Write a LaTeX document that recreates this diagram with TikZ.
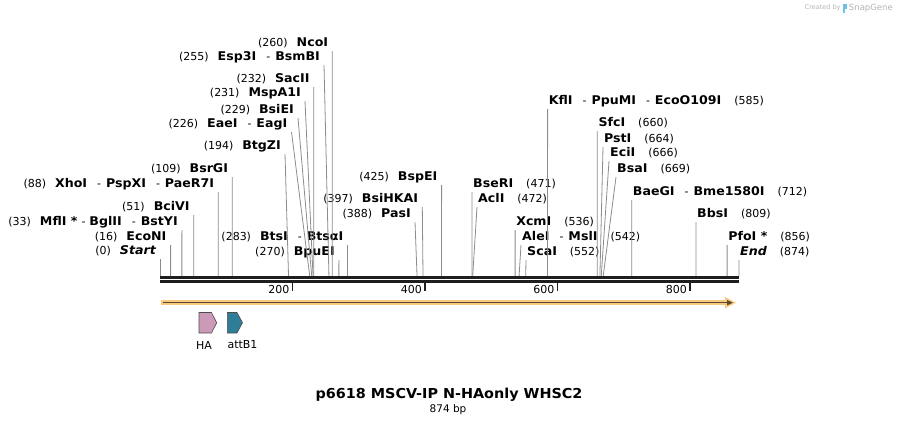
\documentclass[tikz,border=0pt]{standalone}
\usepackage{fontspec}
\setmainfont{DejaVu Sans}[BoldFeatures={FakeStretch=1.05},BoldItalicFeatures={FakeStretch=1.05}]
\usetikzlibrary{arrows.meta}

\definecolor{sitegray}{HTML}{8C8C8C}
\definecolor{mapblack}{HTML}{1E1E1E}
\definecolor{featorange}{HTML}{F9C97C}
\definecolor{featbrown}{HTML}{5A4A33}
\definecolor{hapink}{HTML}{CC9AB9}
\definecolor{attteal}{HTML}{2F7E98}
\definecolor{logoblue}{HTML}{6CC0EC}
\definecolor{logogray}{HTML}{B4B4B4}

\newcommand{\enzname}[1]{{\fontsize{12}{14}\selectfont\bfseries #1}}
\newcommand{\enzsep}{\hspace{10pt}-\hspace{5pt}}

\tikzset{
  cut/.style={draw=sitegray, line width=0.8pt},
  cutlabel/.style={inner ysep=2pt, text depth=2pt, font=\fontsize{11}{13}\selectfont},
  leftcut/.style={cutlabel, anchor=south east, inner xsep=4pt},
  rightcut/.style={cutlabel, anchor=south west, inner xsep=1pt},
  feature/.style={draw=black!70, line width=0.6pt},
  featlabel/.style={font=\fontsize{11}{13}\selectfont, inner sep=0pt},
}

\begin{document}
\begin{tikzpicture}[x=1pt,y=-1pt]
    \useasboundingbox (0,0) rectangle (899,426);

    % cut sites on the backbone (874 bp)
    \foreach \n/\bp in {Start/0,EcoNI/16,MflI/33,BciVI/51,XhoI/88,BsrGI/109,BtgZI/194,
        EaeI/226,BsiEI/229,MspAI/231,SacII/232,EspI/255,NcoI/260,BpuEI/270,BtsI/283,
        PasI/388,BsiHKAI/397,BspEI/425,BseRI/471,AclI/472,XcmI/536,AleI/542,ScaI/552,
        KflI/585,SfcI/660,PstI/664,EciI/666,BsaI/669,BaeGI/712,BbsI/809,PfoI/856,End/874}
        \coordinate (s\n) at ({160+0.6625*\bp},276);

    % Enzymes left of their site
    \node[leftcut] (lStart) at (160,259) {(0)\hspace{9pt}\enzname{\itshape Start}};
    \node[leftcut] (lEcoNI) at (170.6,245) {(16)\hspace{9pt}\enzname{EcoNI}};
    \node[leftcut] (lMflI) at (181.9,230) {(33)\hspace{9pt}\enzname{MflI *}\hspace{4pt}-\hspace{4pt}\enzname{BglII}\enzsep\enzname{BstYI}};
    \node[leftcut] (lBciVI) at (193.8,215) {(51)\hspace{9pt}\enzname{BciVI}};
    \node[leftcut] (lXhoI) at (218.3,192) {(88)\hspace{9pt}\enzname{XhoI}\enzsep\enzname{PspXI}\enzsep\enzname{PaeR7I}};
    \node[leftcut] (lBsrGI) at (232.2,177) {(109)\hspace{9pt}\enzname{BsrGI}};
    \node[leftcut] (lBtgZI) at (285,154) {(194)\hspace{9pt}\enzname{BtgZI}};
    \node[leftcut] (lEaeI) at (291.5,132) {(226)\hspace{9pt}\enzname{EaeI}\enzsep\enzname{EagI}};
    \node[leftcut] (lBsiEI) at (298,118) {(229)\hspace{9pt}\enzname{BsiEI}};
    \node[leftcut] (lMspAI) at (305,101) {(231)\hspace{9pt}\enzname{MspA1I}};
    \node[leftcut] (lSacII) at (313.7,87) {(232)\hspace{9pt}\enzname{SacII}};
    \node[leftcut] (lEspI) at (324,65) {(255)\hspace{9pt}\enzname{Esp3I}\enzsep\enzname{BsmBI}};
    \node[leftcut] (lNcoI) at (332.3,51) {(260)\hspace{9pt}\enzname{NcoI}};
    \node[leftcut] (lBtsI) at (347.5,245) {(283)\hspace{9pt}\enzname{BtsI}\enzsep\enzname{BtsαI}};
    \node[leftcut] (lBpuEI) at (338.9,260) {(270)\hspace{9pt}\enzname{BpuEI}};
    \node[leftcut] (lPasI) at (415,222) {(388)\hspace{9pt}\enzname{PasI}};
    \node[leftcut] (lBsiHKAI) at (422.3,207) {(397)\hspace{9pt}\enzname{BsiHKAI}};
    \node[leftcut] (lBspEI) at (441.6,185) {(425)\hspace{9pt}\enzname{BspEI}};

    % Enzymes right of their site
    \node[rightcut] (lBseRI) at (472,192) {\enzname{BseRI}\hspace{13pt}(471)};
    \node[rightcut] (lAclI) at (477,207) {\enzname{AclI}\hspace{13pt}(472)};
    \node[rightcut] (lXcmI) at (515.1,230) {\enzname{XcmI}\hspace{13pt}(536)};
    \node[rightcut] (lAleI) at (521,245) {\enzname{AleI}\enzsep\enzname{MslI}\hspace{13pt}(542)};
    \node[rightcut] (lScaI) at (526,260) {\enzname{ScaI}\hspace{13pt}(552)};
    \node[rightcut] (lKflI) at (547.6,109) {\enzname{KflI}\enzsep\enzname{PpuMI}\enzsep\enzname{EcoO109I}\hspace{13pt}(585)};
    \node[rightcut] (lSfcI) at (597.3,131) {\enzname{SfcI}\hspace{13pt}(660)};
    \node[rightcut] (lPstI) at (603,147) {\enzname{PstI}\hspace{13pt}(664)};
    \node[rightcut] (lEciI) at (609,161) {\enzname{EciI}\hspace{13pt}(666)};
    \node[rightcut] (lBsaI) at (616,177) {\enzname{BsaI}\hspace{13pt}(669)};
    \node[rightcut] (lBaeGI) at (631.7,200) {\enzname{BaeGI}\enzsep\enzname{Bme1580I}\hspace{13pt}(712)};
    \node[rightcut] (lBbsI) at (696,222) {\enzname{BbsI}\hspace{13pt}(809)};
    \node[rightcut] (lPfoI) at (727.1,245) {\enzname{PfoI *}\hspace{13pt}(856)};
    \node[rightcut] (lEnd) at (739,260) {\enzname{\itshape End}\hspace{13pt}(874)};

    % connectors
    \foreach \n in {Start,EcoNI,MflI,BciVI,XhoI,BsrGI,BtgZI,EaeI,BsiEI,MspAI,SacII,EspI,
        NcoI,BtsI,BpuEI,PasI,BsiHKAI,BspEI}
        \draw[cut] (l\n.south east) -- (s\n);
    \foreach \n in {BseRI,AclI,XcmI,AleI,ScaI,KflI,SfcI,PstI,EciI,BsaI,BaeGI,BbsI,PfoI,End}
        \draw[cut] (l\n.south west) -- (s\n);

    % backbone and ruler
    \draw[mapblack, line width=2.7pt] (160,277.4) -- (739,277.4);
    \draw[mapblack, line width=2.7pt] (160,281.8) -- (739,281.8);
    \foreach \t in {200,400,600,800} {
        \draw[mapblack, line width=1.6pt] ({160+0.6625*\t},283) -- ++(0,8);
        \node[anchor=base east, inner sep=0pt, font=\fontsize{11}{13}\selectfont] (tick\t) at ({160+0.6625*\t-3},293) {\t};
    }

    % features
    \draw[featorange, line width=5.5pt] (161,302.7) -- (727,302.7);
    \fill[featorange] (725,297) -- (736,302.7) -- (725,308.4) -- cycle;
    \draw[featbrown, line width=1.4pt, -{Triangle[length=6pt,width=5pt]}] (162.5,302.7) -- (733,302.7);
    \draw[feature, fill=hapink] (199,312.5) -- (211.5,312.5) -- (216.7,322.7) -- (211.5,333) -- (199,333) -- cycle;
    \draw[feature, fill=attteal] (227.3,312.5) -- (237,312.5) -- (242.5,322.7) -- (237,333) -- (227.3,333) -- cycle;
    \node[featlabel] (haText) at (204,345) {HA};
    \node[featlabel] (attText) at (242.5,345) {attB1};

    % title
    \node[font=\fontsize{13.7}{16}\selectfont\bfseries] (mapTitle) at (449,395) {p6618 MSCV-IP N-HAonly WHSC2};
    \node[font=\fontsize{10.5}{12}\selectfont] (mapSize) at (448,410) {874 bp};

    % logo
    \node[anchor=east, inner sep=0pt, text=logogray, font=\fontsize{8.5}{10}\selectfont] (sgName) at (893,8) {SnapGene};
    \fill[logoblue] ([xshift=-6pt]sgName.west) ++(0,-4) rectangle ++(2.2,9);
    \fill[logoblue] ([xshift=-3.8pt]sgName.west) ++(0,-4) rectangle ++(2,4.5);
    \node[anchor=east, inner sep=0pt, text=logogray, font=\fontsize{6.5}{8}\selectfont] (sgBy) at ([xshift=-8pt]sgName.west) {Created by};
\end{tikzpicture}
\end{document}
